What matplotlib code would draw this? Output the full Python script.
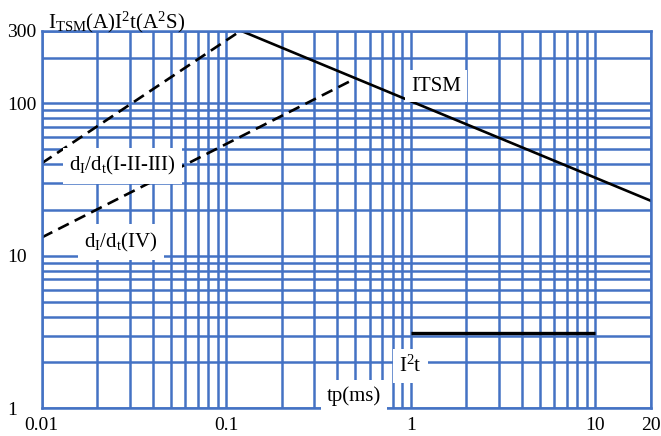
import numpy as np
import matplotlib
matplotlib.use("Agg")
import matplotlib.pyplot as plt
from matplotlib.ticker import LogLocator, NullFormatter, FixedLocator, FixedFormatter
from matplotlib.transforms import ScaledTranslation

plt.rcParams['font.family'] = ['Liberation Serif', 'DejaVu Serif']
plt.rcParams['mathtext.fontset'] = 'custom'
plt.rcParams['mathtext.rm'] = 'Liberation Serif'
plt.rcParams['mathtext.it'] = 'Liberation Serif:italic'

# curve data (tp in ms, value in A or A^2s)
itsm_t = [0.12, 20]
itsm_v = [300, 23]
didt_123_t = [0.01, 0.12]
didt_123_v = [40.5, 300]
didt_4_t = [0.01, 0.47]
didt_4_v = [13.2, 140]
i2t_t = [1, 10]
i2t_v = [3.1, 3.1]

xticks = [0.01, 0.1, 1, 10, 20]
xticklabels = ['0.01', '0.1', '1', '10', '20']
yticks = [1, 10, 100, 300]
yticklabels = ['1', '10', '100', '300']

blue = '#4472C4'

fig = plt.figure(figsize=(6.61, 4.36), dpi=100)
ax = fig.add_axes([0.0631, 0.0635, 0.9844 - 0.0631, 0.9296 - 0.0635])
ax.set_xscale('log')
ax.set_yscale('log')
ax.set_xlim(0.01, 20)
ax.set_ylim(1, 300)

ax.xaxis.set_major_locator(FixedLocator(xticks))
ax.xaxis.set_major_formatter(FixedFormatter(xticklabels))
ax.xaxis.set_minor_locator(LogLocator(base=10, subs=np.arange(2, 10)))
ax.xaxis.set_minor_formatter(NullFormatter())
ax.yaxis.set_major_locator(FixedLocator(yticks))
ax.yaxis.set_major_formatter(FixedFormatter(yticklabels))
ax.yaxis.set_minor_locator(LogLocator(base=10, subs=np.arange(2, 10)))
ax.yaxis.set_minor_formatter(NullFormatter())

ax.grid(True, which='both', color=blue, lw=1.8)
ax.set_axisbelow(True)
for s in ax.spines.values():
    s.set_color(blue)
    s.set_linewidth(1.8)

ax.tick_params(which='both', length=0, labelsize=14)
ax.tick_params(axis='x', pad=6)
for lab in ax.get_yticklabels():
    lab.set_horizontalalignment('left')
    lab.set_transform(lab.get_transform() + ScaledTranslation(-0.30, 0, fig.dpi_scale_trans))

ax.plot(itsm_t, itsm_v, color='black', lw=1.9)
ax.plot(didt_123_t, didt_123_v, color='black', lw=1.9, dashes=(4.5, 2.5))
ax.plot(didt_4_t, didt_4_v, color='black', lw=1.9, dashes=(4.5, 2.5))
ax.plot(i2t_t, i2t_v, color='black', lw=2.4, solid_capstyle='butt')

box = dict(facecolor='white', edgecolor='none', boxstyle='square,pad=0.3')
ax.text(1.37, 130, 'ITSM', fontsize=15, ha='center', va='center', bbox=box)
ax.text(0.0274, 38.9, r'd$_\mathrm{I}$/d$_\mathrm{t}$(I-II-III)', fontsize=15,
        ha='center', va='center', bbox=box)
ax.text(0.0269, 12.3, r'd$_\mathrm{I}$/d$_\mathrm{t}$(IV)', fontsize=15,
        ha='center', va='center', bbox=box)
ax.text(1.0, 1.9, r'I$^\mathrm{2}$t', fontsize=15, ha='center', va='center', bbox=box)
ax.text(0.493, 1.2, 'tp(ms)', fontsize=15, ha='center', va='center', bbox=box)

fig.text(48 / 661, (436 - 28) / 436,
         r'I$_\mathrm{TSM}$(A)I$^\mathrm{2}$t(A$^\mathrm{2}$S)',
         fontsize=15, ha='left', va='baseline')

fig.savefig('out.png', dpi=100)
